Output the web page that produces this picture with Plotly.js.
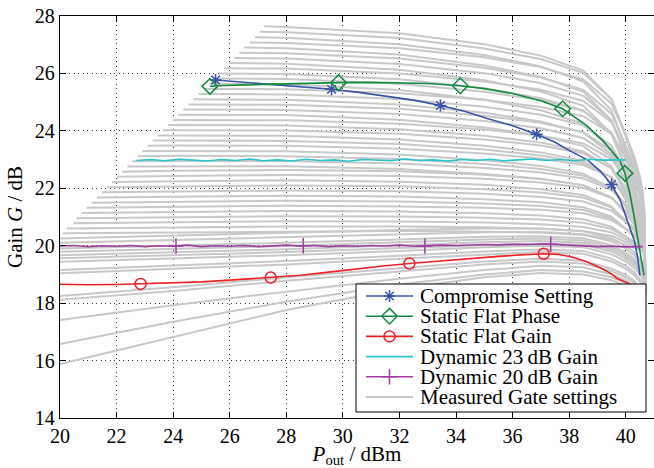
<!DOCTYPE html>
<html><head><meta charset="utf-8">
<script src="https://cdn.plot.ly/plotly-3.0.1.min.js"></script>
<style>html,body{margin:0;padding:0;background:#fff;}#chart{width:654px;height:468px;}</style>
</head><body><div id="chart"></div>
<script>
// ---------------- DATA ----------------
// Compromise Setting
const compX = [25.5, 26.0, 27.0, 28.0, 29.0, 29.6, 30.5, 31.5, 32.5, 33.45, 34.3, 35.1, 36.0, 36.85, 37.5, 38.0, 38.66, 39.1, 39.5, 39.8, 40.0, 40.2, 40.32, 40.42, 40.5];
const compG = [25.77, 25.73, 25.66, 25.58, 25.5, 25.45, 25.35, 25.22, 25.07, 24.88, 24.68, 24.43, 24.18, 23.88, 23.6, 23.32, 22.98, 22.6, 22.13, 21.6, 21.05, 20.5, 20.13, 19.6, 18.97];
const compMarkX = [25.5, 29.6, 33.45, 36.85, 39.5];
const compMarkG = [25.77, 25.45, 24.88, 23.88, 22.13];
// Static Flat Phase
const phaseX = [25.3, 25.6, 26.5, 27.5, 28.5, 29.85, 31.0, 32.0, 33.0, 34.15, 35.0, 36.0, 37.0, 37.77, 38.6, 39.2, 39.55, 39.8, 39.97, 40.15, 40.3, 40.4, 40.47, 40.57, 40.65];
const phaseG = [25.55, 25.57, 25.6, 25.63, 25.66, 25.68, 25.69, 25.68, 25.65, 25.57, 25.47, 25.3, 25.05, 24.77, 24.2, 23.65, 23.25, 22.95, 22.52, 21.8, 21.0, 20.4, 19.85, 19.4, 18.97];
const phaseMarkX = [25.3, 29.85, 34.15, 37.77, 39.97];
const phaseMarkG = [25.55, 25.68, 25.57, 24.77, 22.52];
// Static Flat Gain
const flatX = [20, 21, 22, 22.85, 24, 25, 26, 27.45, 28.5, 29.5, 30.5, 31.5, 32.35, 33.5, 34.5, 35.5, 36.3, 37.1, 37.6, 38.1, 38.6, 39.1, 39.5, 39.7, 40.1, 40.35];
const flatG = [18.66, 18.64, 18.65, 18.67, 18.7, 18.74, 18.8, 18.89, 18.97, 19.08, 19.2, 19.3, 19.38, 19.48, 19.56, 19.63, 19.68, 19.72, 19.7, 19.61, 19.45, 19.23, 19.02, 18.86, 18.69, 18.3];
const flatMarkX = [22.85, 27.45, 32.35, 37.1];
const flatMarkG = [18.67, 18.89, 19.38, 19.72];
// Dynamic 23 dB Gain
const dyn23X = [22.7, 23.2, 23.7, 24.2, 24.7, 25.2, 25.7, 26.2, 26.7, 27.2, 27.7, 28.2, 28.7, 29.2, 29.7, 30.2, 30.7, 31.2, 31.7, 32.2, 32.7, 33.2, 33.7, 34.2, 34.7, 35.2, 35.7, 36.2, 36.7, 37.2, 37.7, 38.2, 38.7, 39.2, 39.7, 40.0];
const dyn23G = [22.97, 23.0, 22.96, 23.01, 22.98, 22.95, 23.0, 22.97, 23.02, 22.96, 22.99, 22.95, 23.01, 22.97, 22.99, 22.94, 23.0, 22.98, 22.96, 23.02, 22.97, 22.99, 22.95, 23.0, 22.97, 23.01, 22.96, 22.99, 23.02, 22.97, 23.0, 22.96, 23.01, 22.98, 23.0, 22.99];
// Dynamic 20 dB Gain
const dyn20X = [20, 20.5, 21, 21.5, 22, 22.5, 23, 23.5, 24, 24.5, 25, 25.5, 26, 26.5, 27, 27.5, 28, 28.5, 29, 29.5, 30, 30.5, 31, 31.5, 32, 32.5, 33, 33.5, 34, 34.5, 35, 35.5, 36, 36.5, 37, 37.5, 38, 38.5, 39, 39.5, 40, 40.5, 40.6];
const dyn20G = [19.99, 20.01, 19.97, 20.0, 19.98, 20.01, 19.97, 20.0, 19.98, 20.02, 19.97, 20.0, 19.98, 20.01, 19.97, 20.0, 20.02, 19.99, 20.01, 19.97, 20.0, 19.98, 20.01, 19.99, 20.02, 19.98, 20.0, 20.02, 20.01, 20.03, 20.04, 20.03, 20.05, 20.04, 20.06, 20.04, 20.02, 19.98, 19.97, 19.98, 19.96, 19.97, 19.97];
const dyn20MarkX = [24.1, 28.6, 32.9, 37.35];
const dyn20MarkG = [19.99, 20.0, 19.99, 20.05];

// Measured gate settings: start point of each curve, then gains on a shared Pout grid (null = not yet started)
const grayGridX = [20, 24, 28, 32, 35, 37, 38.5, 39.5, 40, 40.3, 40.5, 40.6, 40.66, 40.7];
const grayStartX = [27.22, 27.06, 26.88, 26.7, 26.52, 26.34, 26.16, 25.98, 25.8, 25.62, 25.44, 25.26, 25.08, 24.9, 24.72, 24.54, 24.36, 24.18, 24.0, 23.82, 23.64, 23.46, 23.28, 23.1, 22.92, 22.74, 22.56, 22.38, 22.2, 22.02, 21.84, 21.66, 21.48, 21.3, 21.12, 20.94, 20.76, 20.58, 20.47, 20.25, 20.1,
  20, 20, 20, 20, 20, 20, 20, 20, 20, 20, 20, 20, 20, 20];
const grayStartG = [27.64, 27.45, 27.26, 27.08, 26.9, 26.72, 26.54, 26.36, 26.18, 26.0, 25.82, 25.64, 25.46, 25.28, 25.1, 24.92, 24.74, 24.56, 24.38, 24.2, 24.02, 23.84, 23.66, 23.48, 23.3, 23.12, 22.94, 22.76, 22.58, 22.4, 22.22, 22.04, 21.86, 21.68, 21.5, 21.32, 21.14, 20.96, 20.78, 20.6, 20.43,
  15.88, 16.58, 17.41, 18.12, 18.25, 19.04, 19.15, 19.44, 19.56, 19.67, 19.79, 19.9, 20.1, 20.25];
const grayG = [
  [null, null, 27.62, 27.40, 27.02, 26.62, 26.10, 25.10, 23.80, 22.90, 22.10, 21.44, 20.74, 18.5],
  [null, null, 27.43, 27.23, 26.87, 26.50, 26.02, 25.09, 23.88, 23.04, 22.30, 21.68, 21.03, 18.45],
  [null, null, 27.24, 27.02, 26.64, 26.24, 25.72, 24.72, 23.42, 22.52, 21.72, 21.06, 20.36, 18.5],
  [null, null, 27.06, 26.88, 26.56, 26.22, 25.79, 24.95, 23.85, 23.10, 22.43, 21.87, 21.28, 18.5],
  [null, null, 26.88, 26.66, 26.28, 25.88, 25.36, 24.36, 23.06, 22.16, 21.36, 20.70, 20.0, 18.45],
  [null, null, 26.70, 26.52, 26.20, 25.86, 25.43, 24.59, 23.49, 22.74, 22.07, 21.51, 20.92, 18.5],
  [null, null, 26.52, 26.33, 26.01, 25.66, 25.22, 24.36, 23.24, 22.46, 21.78, 21.21, 20.61, 18.45],
  [null, null, 26.34, 26.13, 25.76, 25.37, 24.87, 23.90, 22.64, 21.76, 20.99, 20.35, 19.67, 18.4],
  [null, null, 26.17, 26.0, 25.72, 25.43, 25.04, 24.30, 23.34, 22.67, 22.08, 21.59, 21.07, 18.5],
  [null, null, 25.98, 25.80, 25.48, 25.14, 24.71, 23.87, 22.77, 22.02, 21.35, 20.79, 20.20, 18.45],
  [null, null, 25.81, 25.64, 25.36, 25.07, 24.69, 23.95, 23.0, 22.34, 21.75, 21.26, 20.75, 18.5],
  [null, null, 25.62, 25.42, 25.08, 24.72, 24.25, 23.35, 22.18, 21.37, 20.65, 20.06, 19.43, 18.4],
  [null, null, 25.45, 25.31, 25.08, 24.83, 24.51, 23.89, 23.08, 22.52, 22.03, 21.62, 21.18, 18.5],
  [null, null, 25.27, 25.11, 24.84, 24.56, 24.19, 23.48, 22.55, 21.91, 21.35, 20.88, 20.38, 18.45],
  [null, null, 25.08, 24.92, 24.63, 24.33, 23.94, 23.19, 22.22, 21.54, 20.94, 20.45, 19.92, 18.4],
  [null, null, 24.91, 24.77, 24.53, 24.28, 23.95, 23.32, 22.50, 21.93, 21.43, 21.01, 20.57, 18.5],
  [null, null, 24.73, 24.59, 24.34, 24.09, 23.75, 23.11, 22.28, 21.71, 21.19, 20.77, 20.32, 18.45],
  [null, null, 24.55, 24.39, 24.12, 23.84, 23.47, 22.76, 21.83, 21.19, 20.63, 20.16, 19.66, 18.4],
  [null, null, 24.37, 24.25, 24.05, 23.83, 23.56, 23.02, 22.33, 21.84, 21.42, 21.06, 20.69, 18.5],
  [null, 24.2, 24.19, 24.06, 23.83, 23.59, 23.28, 22.68, 21.90, 21.36, 20.88, 20.48, 20.06, 18.45],
  [null, 24.02, 24.01, 23.90, 23.70, 23.49, 23.22, 22.70, 22.02, 21.56, 21.14, 20.80, 20.43, 18.5],
  [null, 23.84, 23.83, 23.70, 23.48, 23.25, 22.95, 22.37, 21.61, 21.09, 20.63, 20.24, 19.84, 18.4],
  [null, 23.66, 23.65, 23.54, 23.35, 23.14, 22.88, 22.38, 21.72, 21.27, 20.86, 20.53, 20.18, 18.45],
  [null, 23.49, 23.48, 23.38, 23.21, 23.04, 22.81, 22.38, 21.81, 21.42, 21.07, 20.78, 20.48, 18.5],
  [null, 23.3, 23.29, 23.18, 22.98, 22.78, 22.51, 22.0, 21.34, 20.88, 20.47, 20.14, 19.78, 18.4],
  [null, 23.13, 23.12, 23.02, 22.85, 22.67, 22.44, 22.0, 21.43, 21.03, 20.68, 20.39, 20.08, 18.45],
  [null, 22.95, 22.95, 22.86, 22.71, 22.55, 22.34, 21.95, 21.43, 21.08, 20.76, 20.5, 20.22, 18.5],
  [null, 22.77, 22.77, 22.67, 22.50, 22.33, 22.11, 21.68, 21.12, 20.73, 20.39, 20.10, 19.80, 18.4],
  [null, 22.61, 22.64, 22.59, 22.47, 22.32, 22.11, 21.68, 21.2, 20.87, 20.57, 20.33, 20.07, 18.5],
  [null, 22.43, 22.46, 22.43, 22.33, 22.2, 22.02, 21.66, 21.21, 20.93, 20.68, 20.48, 20.26, 18.45],
  [null, 22.25, 22.28, 22.23, 22.12, 21.97, 21.77, 21.36, 20.84, 20.51, 20.23, 19.99, 19.74, 18.4],
  [null, 22.07, 22.10, 22.07, 21.97, 21.85, 21.68, 21.33, 20.89, 20.62, 20.38, 20.18, 19.97, 18.5],
  [null, 21.89, 21.92, 21.9, 21.81, 21.7, 21.54, 21.22, 20.82, 20.58, 20.36, 20.19, 20.0, 18.45],
  [null, 21.71, 21.74, 21.71, 21.62, 21.51, 21.34, 21.01, 20.59, 20.33, 20.1, 19.91, 19.71, 18.4],
  [null, 21.53, 21.57, 21.54, 21.47, 21.38, 21.24, 20.95, 20.59, 20.38, 20.19, 20.04, 19.87, 18.5],
  [null, 21.35, 21.39, 21.37, 21.32, 21.25, 21.13, 20.89, 20.59, 20.42, 20.27, 20.14, 20.01, 18.45],
  [null, 21.17, 21.21, 21.19, 21.13, 21.05, 20.92, 20.66, 20.33, 20.14, 19.98, 19.84, 19.69, 18.4],
  [null, 20.99, 21.03, 21.02, 20.97, 20.91, 20.8, 20.58, 20.31, 20.15, 20.02, 19.91, 19.79, 18.5],
  [null, 20.81, 20.85, 20.84, 20.81, 20.75, 20.65, 20.46, 20.22, 20.08, 19.97, 19.87, 19.77, 18.45],
  [null, 20.63, 20.67, 20.67, 20.64, 20.59, 20.51, 20.34, 20.12, 20.01, 19.91, 19.83, 19.74, 18.4],
  [null, 20.46, 20.5, 20.51, 20.49, 20.45, 20.37, 20.22, 20.03, 19.94, 19.86, 19.79, 19.72, 18.5],
  [null, 16.83, 17.76, 18.5, 18.9, 19.05, 19.0, 18.8, 18.6, 18.4, 18.2, 18.05, 17.95, 17.85],
  [null, 17.35, 18.05, 18.65, 19.0, 19.15, 19.1, 18.9, 18.7, 18.5, 18.3, 18.15, 18.05, 17.95],
  [null, 17.93, 18.4, 18.85, 19.15, 19.3, 19.25, 19.0, 18.8, 18.6, 18.4, 18.25, 18.15, 18.0],
  [null, 18.42, 18.78, 19.1, 19.35, 19.45, 19.38, 19.12, 18.9, 18.7, 18.5, 18.35, 18.25, 18.1],
  [null, 18.55, 18.9, 19.2, 19.45, 19.55, 19.48, 19.2, 18.98, 18.78, 18.55, 18.4, 18.3, 18.1],
  [null, 19.2, 19.35, 19.55, 19.7, 19.78, 19.72, 19.45, 19.2, 18.98, 18.75, 18.6, 18.45, 18.2],
  [null, 19.3, 19.47, 19.65, 19.8, 19.87, 19.82, 19.55, 19.3, 19.08, 18.85, 18.7, 18.55, 18.3],
  [null, 19.55, 19.67, 19.82, 19.95, 20.0, 19.95, 19.7, 19.45, 19.22, 19.0, 18.85, 18.7, 18.4],
  [null, 19.66, 19.78, 19.92, 20.03, 20.08, 20.03, 19.8, 19.55, 19.32, 19.1, 18.95, 18.8, 18.45],
  [null, 19.77, 19.88, 20.02, 20.12, 20.16, 20.1, 19.88, 19.63, 19.4, 19.18, 19.02, 18.88, 18.5],
  [null, 19.88, 19.99, 20.12, 20.22, 20.25, 20.18, 19.95, 19.7, 19.48, 19.25, 19.1, 18.95, 18.55],
  [null, 19.99, 20.1, 20.22, 20.31, 20.33, 20.26, 20.02, 19.77, 19.55, 19.32, 19.16, 19.02, 18.6],
  [null, 20.2, 20.3, 20.4, 20.47, 20.48, 20.4, 20.15, 19.9, 19.67, 19.45, 19.3, 19.15, 18.6],
  [null, 20.35, 20.45, 20.55, 20.6, 20.6, 20.5, 20.25, 20.0, 19.78, 19.55, 19.4, 19.25, 18.6]
];

const xTicks = [20, 22, 24, 26, 28, 30, 32, 34, 36, 38, 40];
const yTicks = [14, 16, 18, 20, 22, 24, 26, 28];
const legendLabels = ['Compromise Setting', 'Static Flat Phase', 'Static Flat Gain', 'Dynamic 23\u2009dB Gain', 'Dynamic 20\u2009dB Gain', 'Measured Gate settings'];

// ---------------- STYLE ----------------
const FONT = 'Liberation Serif';
const C = {blue: '#3b53a5', green: '#168a43', red: '#ec2227', cyan: '#2cc3c6', magenta: '#9d3fa0', gray: '#c8c8c8'};
const series = [
  {name: legendLabels[0], x: compX, y: compG, mx: compMarkX, my: compMarkG, color: C.blue, symbol: 'asterisk-open', size: 10},
  {name: legendLabels[1], x: phaseX, y: phaseG, mx: phaseMarkX, my: phaseMarkG, color: C.green, symbol: 'diamond-open', size: 12},
  {name: legendLabels[2], x: flatX, y: flatG, mx: flatMarkX, my: flatMarkG, color: C.red, symbol: 'circle-open', size: 11},
  {name: legendLabels[3], x: dyn23X, y: dyn23G, mx: null, my: null, color: C.cyan, symbol: null, size: 0},
  {name: legendLabels[4], x: dyn20X, y: dyn20G, mx: dyn20MarkX, my: dyn20MarkG, color: C.magenta, symbol: 'cross-thin-open', size: 11}
];
const drawOrder = [0, 1, 2, 3, 4];

// ---------------- TRACES ----------------
const traces = [];
const gx = [], gy = [];
for (let i = 0; i < grayStartX.length; i++) {
  gx.push(grayStartX[i]); gy.push(grayStartG[i]);
  for (let j = 0; j < grayGridX.length; j++) {
    const v = grayG[i][j];
    if (v !== null) { gx.push(grayGridX[j]); gy.push(v); }
  }
  gx.push(null); gy.push(null);
}
traces.push({type: 'scatter', mode: 'lines', x: gx, y: gy, name: legendLabels[5], connectgaps: false,
  line: {color: C.gray, width: 2}, hoverinfo: 'skip', showlegend: false});

drawOrder.forEach(k => {
  const s = series[k];
  traces.push({type: 'scatter', mode: 'lines', x: s.x, y: s.y, name: s.name, line: {color: s.color, width: 1.6}, showlegend: false, hoverinfo: 'skip'});
  if (s.mx) traces.push({type: 'scatter', mode: 'markers', x: s.mx, y: s.my, name: s.name, showlegend: false, hoverinfo: 'skip',
    marker: {symbol: s.symbol, size: s.size, color: s.color, line: {color: s.color, width: 1.5}}});
});

// ---------------- LEGEND (drawn on a pixel-scaled overlay axis) ----------------
const LG = {left: 356, right: 646, top: 284, bottom: 412, row0: 296, pitch: 20.2, symL: 366, symR: 413, textX: 418};
traces.push({type: 'scatter', mode: 'lines', xaxis: 'x2', yaxis: 'y2', fill: 'toself', fillcolor: '#ffffff',
  x: [LG.left, LG.right, LG.right, LG.left, LG.left], y: [LG.top, LG.top, LG.bottom, LG.bottom, LG.top],
  line: {color: '#000', width: 1}, hoverinfo: 'skip', showlegend: false});
const annotations = [];
const legendItems = series.concat([{name: legendLabels[5], color: C.gray, symbol: null, width: 2}]);
legendItems.forEach((s, i) => {
  const yy = LG.row0 + i * LG.pitch;
  traces.push({type: 'scatter', mode: 'lines', xaxis: 'x2', yaxis: 'y2', x: [LG.symL, LG.symR], y: [yy, yy],
    line: {color: s.color, width: s.width || 1.6}, hoverinfo: 'skip', showlegend: false});
  if (s.symbol) traces.push({type: 'scatter', mode: 'markers', xaxis: 'x2', yaxis: 'y2', x: [(LG.symL + LG.symR) / 2], y: [yy],
    marker: {symbol: s.symbol, size: s.size, color: s.color, line: {color: s.color, width: 1.5}}, hoverinfo: 'skip', showlegend: false});
  annotations.push({xref: 'x2', yref: 'y2', x: LG.textX, y: yy, text: s.name, showarrow: false, xanchor: 'left', yanchor: 'middle',
    font: {family: FONT, size: 21, color: '#000'}});
});

const axisCommon = {showline: true, linecolor: '#000', linewidth: 1.2, mirror: 'ticks', ticks: 'inside', ticklen: 6, tickwidth: 1,
  tickcolor: '#000', showgrid: true, gridcolor: '#3a3a3a', gridwidth: 1, griddash: '1px,3.5px', zeroline: false,
  tickfont: {family: FONT, size: 20, color: '#000'}, fixedrange: true};

const layout = {
  width: 654, height: 468, margin: {l: 60, r: 0, t: 16, b: 50}, paper_bgcolor: '#fff', plot_bgcolor: '#fff',
  font: {family: FONT, color: '#000'},
  showlegend: false, hovermode: false,
  xaxis: Object.assign({}, axisCommon, {range: [20, 41], tickvals: xTicks,
    title: {text: '<i>P</i><sub>out</sub> / dBm', font: {family: FONT, size: 21, color: '#000'}, standoff: 2}}),
  yaxis: Object.assign({}, axisCommon, {range: [14, 28], tickvals: yTicks,
    title: {text: 'Gain <i>G</i> / dB', font: {family: FONT, size: 21, color: '#000'}, standoff: 6}}),
  xaxis2: {overlaying: 'x', anchor: 'y2', range: [60, 654], visible: false, fixedrange: true},
  yaxis2: {overlaying: 'y', anchor: 'x2', range: [418, 16], visible: false, fixedrange: true},
  annotations: annotations
};

Plotly.newPlot('chart', traces, layout, {displayModeBar: false, staticPlot: true});
</script></body></html>
